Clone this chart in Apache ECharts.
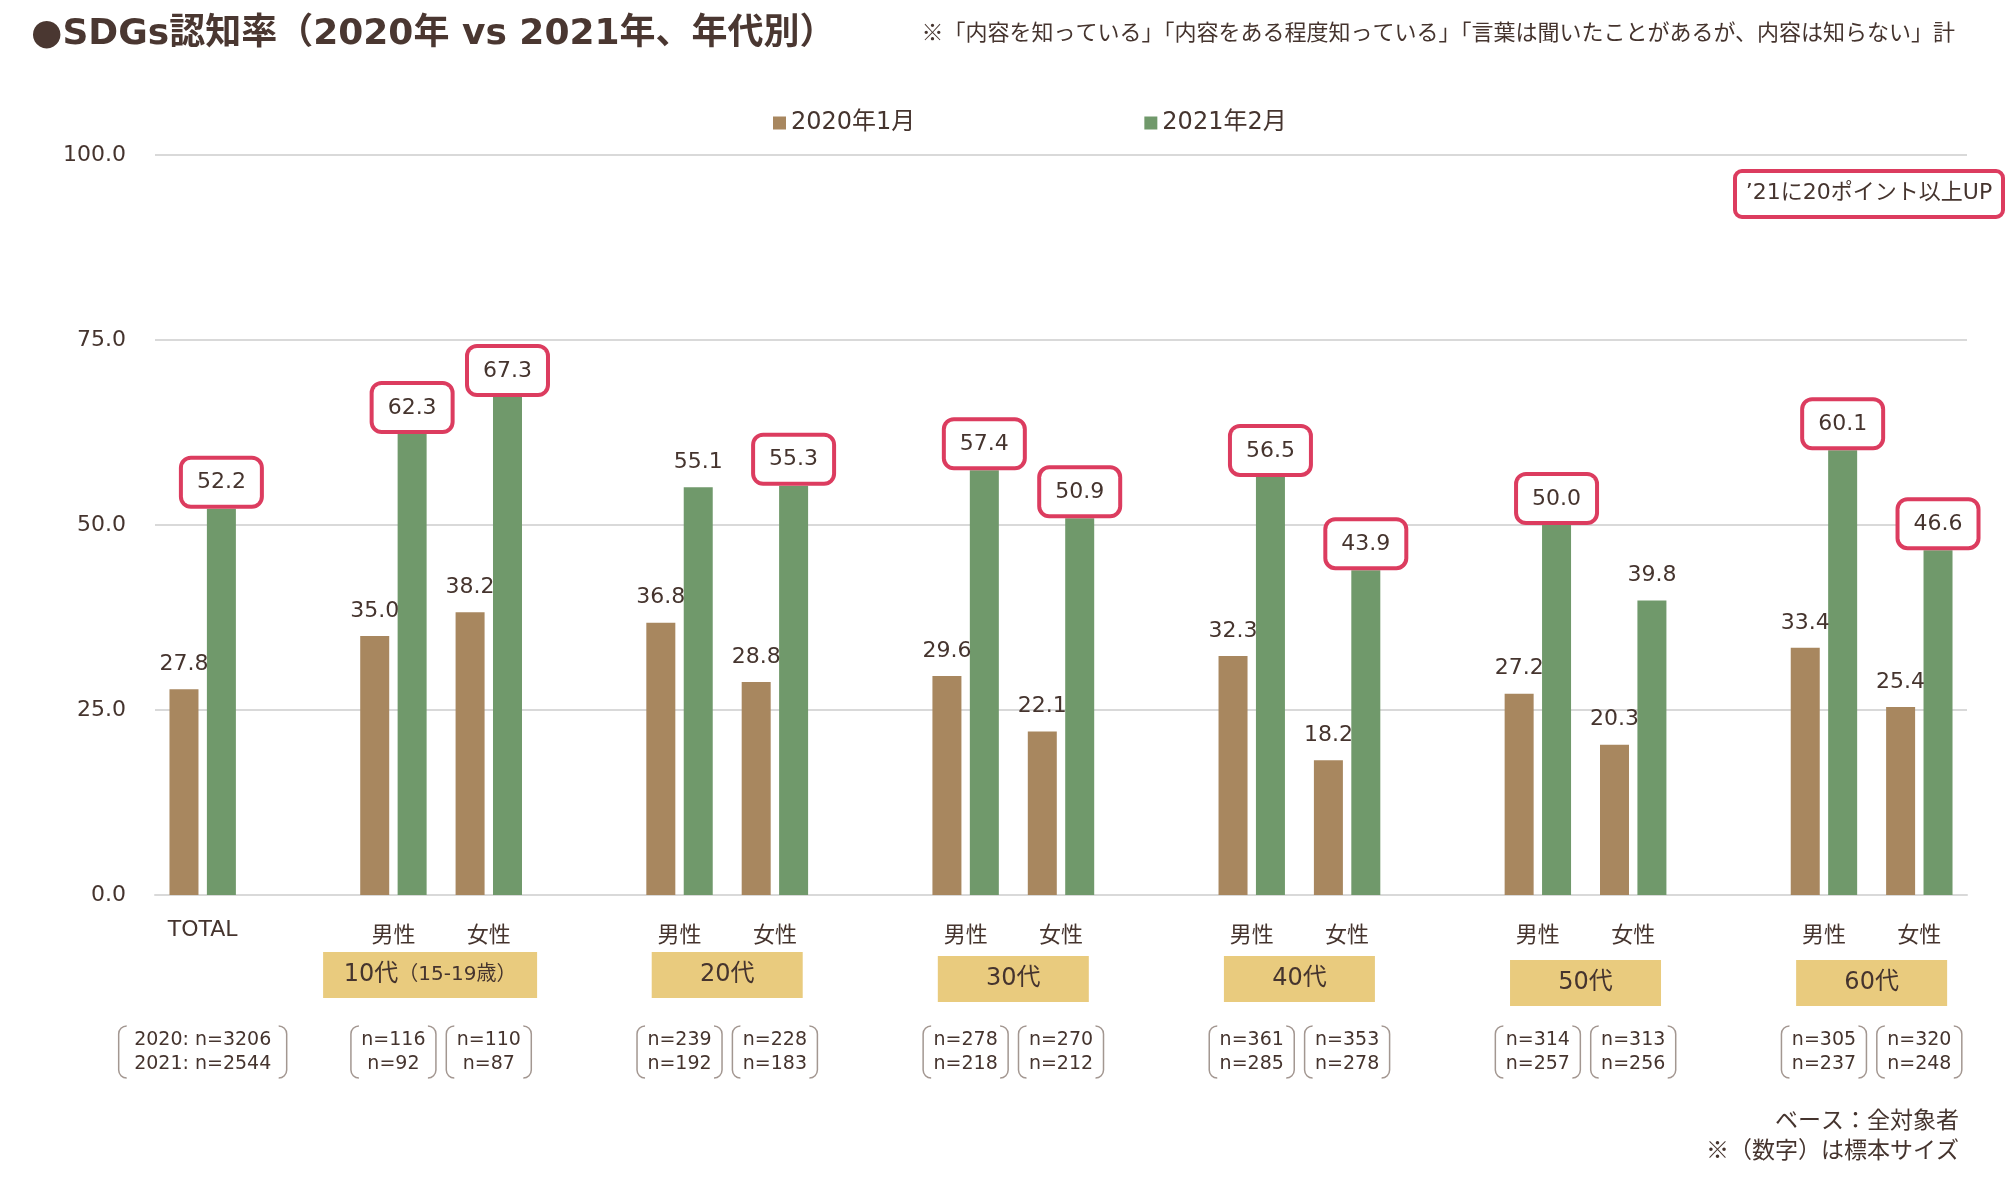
<!DOCTYPE html>
<html>
<head>
<meta charset="utf-8">
<script src="https://cdn.jsdelivr.net/npm/echarts@6/dist/echarts.min.js"></script>
<style>
  html, body { margin: 0; padding: 0; background: #fff; }
  #chart { width: 2013px; height: 1179px; }
</style>
</head>
<body>
<div id="chart"></div>
<script>
  // スロット（空欄はグループ間のすき間）
  var categories = ['TOTAL', '', '男性', '女性', '', '男性', '女性', '', '男性', '女性', '',
                    '男性', '女性', '', '男性', '女性', '', '男性', '女性'];
  var values2020 = [27.8, null, 35.0, 38.2, null, 36.8, 28.8, null, 29.6, 22.1, null,
                    32.3, 18.2, null, 27.2, 20.3, null, 33.4, 25.4];
  var values2021 = [52.2, null, 62.3, 67.3, null, 55.1, 55.3, null, 57.4, 50.9, null,
                    56.5, 43.9, null, 50.0, 39.8, null, 60.1, 46.6];
  var yTicks = [0, 25, 50, 75, 100];
  var ageLabels = ['10代', '20代', '30代', '40代', '50代', '60代'];
  var ageSub = ['（15-19歳）', '', '', '', '', ''];
  var ageSlots = [[2, 3], [5, 6], [8, 9], [11, 12], [14, 15], [17, 18]];
  var sampleSizes = [['2020: n=3206', '2021: n=2544'], null, ['n=116', 'n=92'], ['n=110', 'n=87'], null,
                     ['n=239', 'n=192'], ['n=228', 'n=183'], null, ['n=278', 'n=218'], ['n=270', 'n=212'], null,
                     ['n=361', 'n=285'], ['n=353', 'n=278'], null, ['n=314', 'n=257'], ['n=313', 'n=256'], null,
                     ['n=305', 'n=237'], ['n=320', 'n=248']];
  var upThreshold = 20;

  var textColor = '#45342E';
  var latin = '"DejaVu Sans", "Noto Sans CJK JP", sans-serif';
  var cjk = '"Noto Sans CJK JP", sans-serif';
  var red = '#DC3C5F';

  var chart = echarts.init(document.getElementById('chart'));

  function fmt(p) { return p.value == null ? '' : Number(p.value).toFixed(1); }

  var data2021 = values2021.map(function (v, i) {
    if (v == null) return null;
    var old = values2020[i];
    if (old != null && v - old >= upThreshold) {
      return {
        value: v,
        label: {
          backgroundColor: '#fff', borderColor: red, borderWidth: 4, borderRadius: 8,
          padding: [10, 14, 9, 14], distance: 4
        }
      };
    }
    return v;
  });

  var xData = categories.map(function (c) {
    return c === 'TOTAL' ? { value: c, textStyle: { lineHeight: 18 } } : c;
  });

  var option = {
    animation: false,
    backgroundColor: '#fff',
    title: [
      {
        text: '●SDGs認知率（2020年 vs 2021年、年代別）',
        left: 26, top: 12,
        textStyle: { fontFamily: latin, fontWeight: 'bold', fontSize: 36, color: '#4A3731' }
      },
      {
        text: '※「内容を知っている」「内容をある程度知っている」「言葉は聞いたことがあるが、内容は知らない」計',
        right: 53, top: 16,
        textStyle: { fontFamily: cjk, fontWeight: 'normal', fontSize: 22, color: textColor }
      }
    ],
    legend: {
      left: 773, top: 111, padding: 0,
      icon: 'rect', itemWidth: 13, itemHeight: 13, itemGap: 229,
      textStyle: { fontFamily: latin, fontSize: 24, color: textColor },
      data: ['2020年1月', '2021年2月']
    },
    grid: { left: 155, right: 46, top: 155, bottom: 284 },
    xAxis: {
      type: 'category',
      data: xData,
      axisLine: { lineStyle: { color: '#D9D9D9', width: 2 } },
      axisTick: { show: false },
      axisLabel: {
        margin: 26, fontSize: 22, lineHeight: 30, color: textColor, fontFamily: latin, interval: 0
      }
    },
    yAxis: {
      type: 'value', min: yTicks[0], max: yTicks[yTicks.length - 1], interval: yTicks[1] - yTicks[0],
      axisLine: { show: false }, axisTick: { show: false },
      splitLine: { lineStyle: { color: '#D9D9D9', width: 2 } },
      axisLabel: {
        margin: 29, fontSize: 22, color: textColor, fontFamily: latin,
        formatter: function (v) { return v.toFixed(1); }
      }
    },
    series: [
      {
        name: '2020年1月', type: 'bar', data: values2020,
        barWidth: 29, barGap: '29%',
        itemStyle: { color: '#A8875F' },
        label: {
          show: true, position: 'top', distance: 12, formatter: fmt,
          fontFamily: latin, fontSize: 22, lineHeight: 26, color: textColor
        }
      },
      {
        name: '2021年2月', type: 'bar', data: data2021,
        barWidth: 29,
        itemStyle: { color: '#70996B' },
        label: {
          show: true, position: 'top', distance: 12, formatter: fmt,
          fontFamily: latin, fontSize: 22, lineHeight: 26, color: textColor
        }
      }
    ]
  };
  chart.setOption(option);

  // 注記（年代ボックス・サンプルサイズ・コメント）
  var base = chart.convertToPixel({ yAxisIndex: 0 }, 0);
  var graphics = [];

  ageLabels.forEach(function (name, k) {
    var x1 = chart.convertToPixel({ xAxisIndex: 0 }, ageSlots[k][0]);
    var x2 = chart.convertToPixel({ xAxisIndex: 0 }, ageSlots[k][1]);
    var cx = (x1 + x2) / 2;
    var w = ageSub[k] ? 214 : 151;
    if (ageSub[k]) cx -= 11;
    var top = base + 57 + Math.floor(k / 2) * 4;
    graphics.push({
      type: 'rect', shape: { x: cx - w / 2, y: top, width: w, height: 46 },
      style: { fill: '#E9CB7E' }, z: 10
    });
    graphics.push({
      type: 'text', x: cx, y: top + 23, z: 11,
      style: {
        text: '{a|' + name + '}' + (ageSub[k] ? '{b|' + ageSub[k] + '}' : ''),
        align: 'center', verticalAlign: 'middle',
        rich: {
          a: { fontFamily: latin, fontSize: 24, fill: textColor },
          b: { fontFamily: latin, fontSize: 20, fill: textColor }
        }
      }
    });
  });

  sampleSizes.forEach(function (lines, i) {
    if (!lines) return;
    var cx = chart.convertToPixel({ xAxisIndex: 0 }, i);
    var w = i === 0 ? 168 : 85;
    var h = 52;
    var x = cx - w / 2;
    var y = base + 131;
    graphics.push({
      type: 'rect', shape: { x: x, y: y, width: w, height: h, r: 8 },
      style: { fill: null, stroke: '#A39791', lineWidth: 1.5 }, z: 10
    });
    graphics.push({
      type: 'rect', shape: { x: x + 8, y: y - 3, width: w - 16, height: 6 },
      style: { fill: '#fff' }, z: 11
    });
    graphics.push({
      type: 'rect', shape: { x: x + 8, y: y + h - 3, width: w - 16, height: 6 },
      style: { fill: '#fff' }, z: 11
    });
    graphics.push({
      type: 'text', x: cx, y: y + h / 2, z: 12,
      style: {
        text: lines.join('\n'), align: 'center', verticalAlign: 'middle',
        fontFamily: latin, fontSize: 19, lineHeight: 24, fill: textColor
      }
    });
  });

  graphics.push({
    type: 'rect', shape: { x: 1735, y: 171, width: 268, height: 46, r: 7 },
    style: { fill: '#fff', stroke: red, lineWidth: 4 }, z: 10
  });
  graphics.push({
    type: 'text', x: 1869, y: 193, z: 11,
    style: {
      text: '’21に20ポイント以上UP', align: 'center', verticalAlign: 'middle',
      fontFamily: latin, fontSize: 22, fill: textColor
    }
  });
  graphics.push({
    type: 'text', x: 1959, y: 1104, z: 11,
    style: {
      text: 'ベース：全対象者\n※（数字）は標本サイズ', align: 'right', verticalAlign: 'top',
      fontFamily: cjk, fontSize: 23, lineHeight: 30, fill: textColor
    }
  });

  chart.setOption({ graphic: graphics });
</script>
</body>
</html>
